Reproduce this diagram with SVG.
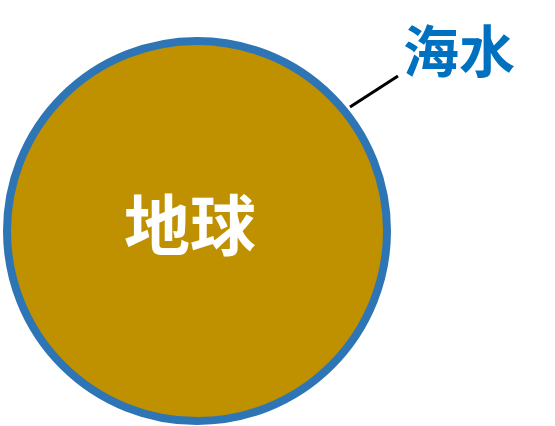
<svg xmlns="http://www.w3.org/2000/svg" width="555" height="426" viewBox="0 0 555 426">
<style>
.cjk{font-family:"Noto Sans CJK SC","Noto Sans CJK JP",sans-serif;font-weight:bold;text-anchor:middle}
</style>
<rect width="555" height="426" fill="#FFFFFF"/>
<g id="earth">
<circle cx="197" cy="231" r="190" fill="#BF9000" stroke="#2E75B6" stroke-width="8"/>
<text class="cjk" x="190" y="250" font-size="66" fill="#FFFFFF">地球</text>
</g>
<g id="connectors">
<line x1="350" y1="107" x2="398" y2="76" stroke="#000000" stroke-width="3"/>
</g>
<g id="seawater">
<text class="cjk" x="459" y="72" font-size="56" fill="#0070C0">海水</text>
</g>
</svg>
